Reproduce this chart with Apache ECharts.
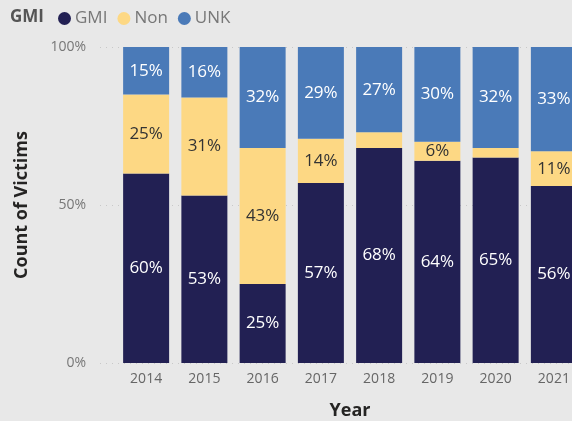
<!DOCTYPE html>
<html>
<head>
<meta charset="utf-8">
<script src="https://cdn.jsdelivr.net/npm/echarts@6/dist/echarts.min.js"></script>
<style>
  html, body { margin: 0; padding: 0; background: #e8e8e8; }
  #main { width: 572px; height: 421px; }
</style>
</head>
<body>
<div id="main"></div>
<script>
var years = ['2014', '2015', '2016', '2017', '2018', '2019', '2020', '2021'];
var gmi = [60, 53, 25, 57, 68, 64, 65, 56];
var non = [25, 31, 43, 14, 5, 6, 3, 11];
var unk = [15, 16, 32, 29, 27, 30, 32, 33];

var font = "'Segoe UI', 'Open Sans', sans-serif";
var myChart = echarts.init(document.getElementById('main'));

function pct(p) {
    return p.value >= 6 ? p.value + '%' : '';
}

function bar(name, data, color, labelColor) {
    return {
        name: name,
        type: 'bar',
        stack: 'all',
        data: data,
        barWidth: 46,
        xAxisIndex: 0,
        yAxisIndex: 0,
        itemStyle: {color: color},
        label: {
            show: true,
            position: 'inside',
            formatter: pct,
            color: labelColor,
            fontFamily: font,
            fontSize: 17
        }
    };
}

var option = {
    backgroundColor: '#e8e8e8',
    textStyle: {fontFamily: font},
    title: {
        text: 'GMI',
        left: 5,
        top: 4,
        textStyle: {fontSize: 17, fontWeight: 'bold', color: '#555', fontFamily: font}
    },
    legend: {
        left: 53,
        top: 5,
        icon: 'circle',
        itemWidth: 13,
        itemHeight: 13,
        itemGap: 10,
        textStyle: {fontSize: 17, color: '#777', fontFamily: font, padding: [0, 0, 0, -1]},
        data: ['GMI', 'Non', 'UNK']
    },
    grid: [
        {left: 117, right: -11, top: 47, bottom: 58, containLabel: false, outerBoundsMode: 'none'},
        {left: 100, right: 0, top: 47, bottom: 58, containLabel: false, outerBoundsMode: 'none'}
    ],
    xAxis: [
        {
            type: 'category',
            gridIndex: 0,
            data: years,
            axisLine: {show: false},
            axisTick: {show: false},
            axisLabel: {color: '#666', fontSize: 14, margin: 9, fontFamily: font},
            name: 'Year',
            nameLocation: 'middle',
            nameGap: 39,
            nameTextStyle: {fontSize: 18, fontWeight: 'bold', color: '#252423', fontFamily: font}
        },
        {type: 'value', gridIndex: 1, show: false}
    ],
    yAxis: [
        {type: 'value', gridIndex: 0, min: 0, max: 100, show: false},
        {
            type: 'value',
            gridIndex: 1,
            min: 0,
            max: 100,
            interval: 50,
            axisLine: {show: false},
            axisTick: {show: false},
            axisLabel: {formatter: '{value}%', color: '#777', fontSize: 14, margin: 14, fontFamily: font},
            splitLine: {lineStyle: {color: '#c8c8c8', type: [1, 5], width: 1}},
            name: 'Count of Victims',
            nameLocation: 'middle',
            nameRotate: 90,
            nameGap: 69,
            nameTextStyle: {fontSize: 18, fontWeight: 'bold', color: '#252423', fontFamily: font}
        }
    ],
    series: [
        bar('GMI', gmi, '#222053', '#ffffff'),
        bar('Non', non, '#fdd884', '#333333'),
        bar('UNK', unk, '#4a7ab8', '#ffffff')
    ]
};

myChart.setOption(option);
</script>
</body>
</html>
